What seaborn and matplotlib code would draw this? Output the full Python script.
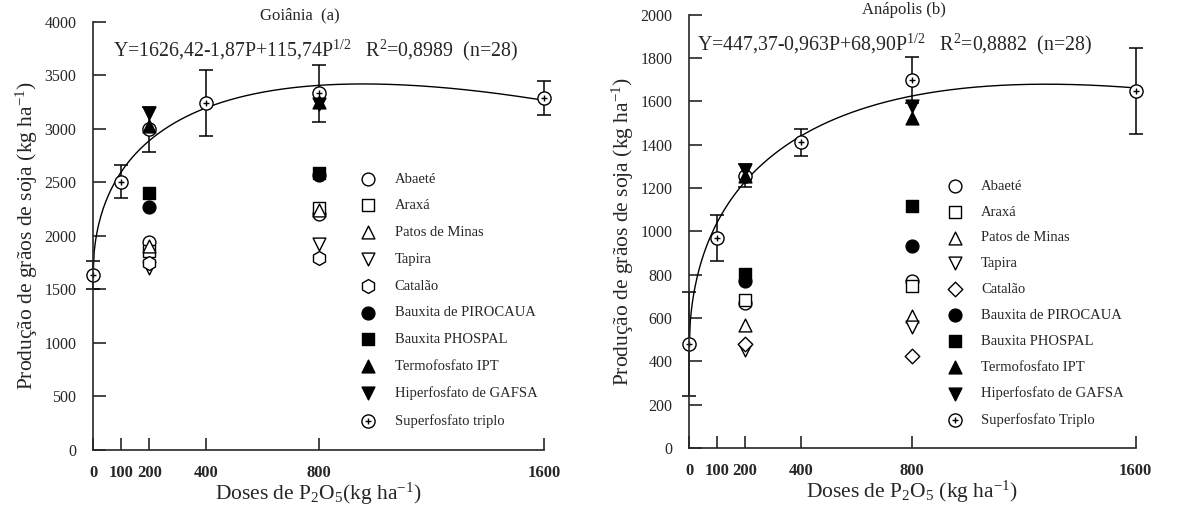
import numpy as np
import pandas as pd
import matplotlib.pyplot as plt
from matplotlib.path import Path
import seaborn as sns

# --- data ---------------------------------------------------------------
doses_sft = [0, 100, 200, 400, 800, 1600]
doses_rock = [200, 800]

goiania_sft = [1630, 2505, 2996, 3240, 3329, 3285]
goiania_sft_err = [130, 155, 210, 308, 266, 160]
anapolis_sft = [481, 969, 1258, 1411, 1700, 1649]
anapolis_sft_err = [240, 105, 52, 63, 105, 200]

sources = ['Abaeté', 'Araxá', 'Patos de Minas', 'Tapira', 'Catalão',
           'Bauxita de PIROCAUA', 'Bauxita PHOSPAL', 'Termofosfato IPT',
           'Hiperfosfato de GAFSA']

goiania_rock = {
    'Abaeté': [1945, 2200],
    'Araxá': [1861, 2257],
    'Patos de Minas': [1905, 2241],
    'Tapira': [1696, 1920],
    'Catalão': [1749, 1790],
    'Bauxita de PIROCAUA': [2266, 2568],
    'Bauxita PHOSPAL': [2403, 2590],
    'Termofosfato IPT': [3026, 3250],
    'Hiperfosfato de GAFSA': [3144, 3228],
}
anapolis_rock = {
    'Abaeté': [669, 769],
    'Araxá': [685, 749],
    'Patos de Minas': [569, 608],
    'Tapira': [454, 558],
    'Catalão': [481, 426],
    'Bauxita de PIROCAUA': [769, 931],
    'Bauxita PHOSPAL': [805, 1115],
    'Termofosfato IPT': [1255, 1523],
    'Hiperfosfato de GAFSA': [1285, 1580],
}

# fitted model Y = a + b*P + c*sqrt(P)
goiania_coef = (1626.42, -1.87, 115.74)
anapolis_coef = (447.37, -0.963, 68.90)

# --- style ----------------------------------------------------------------
sns.set_style("ticks")
plt.rcParams['font.family'] = 'serif'
plt.rcParams['font.serif'] = ['Liberation Serif', 'DejaVu Serif']
plt.rcParams['mathtext.fontset'] = 'custom'
plt.rcParams['mathtext.rm'] = 'Liberation Serif'
plt.rcParams['mathtext.it'] = 'Liberation Serif:italic'
plt.rcParams['mathtext.bf'] = 'Liberation Serif:bold'
plt.rcParams['axes.linewidth'] = 1.2

# circle with a plus inside, for superfosfato
circ = Path.unit_circle()
plus = Path([(-0.45, 0), (0.45, 0), (0, -0.45), (0, 0.45)],
            [Path.MOVETO, Path.LINETO, Path.MOVETO, Path.LINETO])
circle_plus = Path.make_compound_path(circ, plus)

styles = {
    'Abaeté': ('o', 'white', 85),
    'Araxá': ('s', 'white', 80),
    'Patos de Minas': ('^', 'white', 85),
    'Tapira': ('v', 'white', 85),
    'Catalão': ('h', 'white', 100),
    'Bauxita de PIROCAUA': ('o', 'black', 85),
    'Bauxita PHOSPAL': ('s', 'black', 80),
    'Termofosfato IPT': ('^', 'black', 85),
    'Hiperfosfato de GAFSA': ('v', 'black', 85),
}


def draw_panel(ax, rock, sft, sft_err, coef, catalao_marker, sft_label):
    a, b, c = coef
    p = np.linspace(0, 1600, 400)
    sns.lineplot(x=p, y=a + b * p + c * np.sqrt(p), ax=ax, color='black',
                 linewidth=1.0, zorder=1)

    ax.errorbar(doses_sft, sft, yerr=sft_err, fmt='none', ecolor='black',
                elinewidth=1.1, capsize=5, capthick=1.1, zorder=1, clip_on=False)

    for name in sources:
        df = pd.DataFrame({'dose': doses_rock, 'prod': rock[name]})
        mk, fc, size = styles[name]
        if name == 'Catalão' and catalao_marker == 'D':
            mk, size = 'D', 55
        sns.scatterplot(data=df, x='dose', y='prod', ax=ax, marker=mk,
                        color=fc, edgecolor='black', linewidth=1.0, s=size,
                        label=name, zorder=3, clip_on=False)

    df = pd.DataFrame({'dose': doses_sft, 'prod': sft})
    sns.scatterplot(data=df, x='dose', y='prod', ax=ax, marker=circle_plus,
                    color='white', edgecolor='black', linewidth=1.0, s=90,
                    label=sft_label, zorder=2, clip_on=False)

    ax.set_xlim(0, 1600)
    ax.set_xticks(doses_sft)
    ax.tick_params(axis='both', direction='in', length=9, width=1.2)
    ax.tick_params(axis='y', labelsize=11.5, pad=12)
    ax.tick_params(axis='x', labelsize=12, pad=11)
    for t in ax.get_xticklabels():
        t.set_fontweight('bold')
    sns.despine(ax=ax)


fig = plt.figure(figsize=(11.78, 5.13), dpi=100)
ax1 = fig.add_axes([0.079, 0.123, 0.383, 0.835])
ax2 = fig.add_axes([0.585, 0.127, 0.379, 0.844])

draw_panel(ax1, goiania_rock, goiania_sft, goiania_sft_err, goiania_coef,
           'h', 'Superfosfato triplo')
ax1.set_ylim(0, 4000)
ax1.set_yticks(np.arange(0, 4001, 500))

draw_panel(ax2, anapolis_rock, anapolis_sft, anapolis_sft_err, anapolis_coef,
           'D', 'Superfosfato Triplo')
ax2.set_ylim(0, 2000)
ax2.set_yticks(np.arange(0, 2001, 200))

ylab = 'Produção de grãos de soja (kg ha$^{-1}$)'
ax1.set_ylabel(ylab, fontsize=15.5, labelpad=3)
ax2.set_ylabel(ylab, fontsize=15.5, labelpad=3)
ax1.set_xlabel('Doses de P$_2$O$_5$(kg ha$^{-1}$)', fontsize=15.5, labelpad=0)
ax2.set_xlabel('Doses de P$_2$O$_5$ (kg ha$^{-1}$)', fontsize=15.5, labelpad=0)

leg_kw = dict(frameon=False, loc='upper left', borderpad=0, borderaxespad=0,
              handlelength=1.0, handletextpad=1.3,
              prop={'family': 'serif', 'size': 10.5})
ax1.legend(bbox_to_anchor=(0.594, 0.648), labelspacing=0.93, **leg_kw)
ax2.legend(bbox_to_anchor=(0.579, 0.62), labelspacing=0.87, **leg_kw)

fig.text(300 / 1178, 1 - 15 / 513, 'Goiânia  (a)', ha='center', va='center', fontsize=12)
fig.text(904 / 1178, 1 - 10 / 513, 'Anápolis (b)', ha='center', va='center', fontsize=12)

fig.text(113 / 1178, 1 - 50 / 513,
         'Y=1626,42-1,87P+115,74P$^{1/2}$   R$^2$=0,8989  (n=28)',
         ha='left', va='center', fontsize=14.3)
fig.text(697 / 1178, 1 - 44 / 513,
         'Y=447,37-0,963P+68,90P$^{1/2}$   R$^2$=0,8882  (n=28)',
         ha='left', va='center', fontsize=14.3)

fig.savefig('out.png', dpi=100)
